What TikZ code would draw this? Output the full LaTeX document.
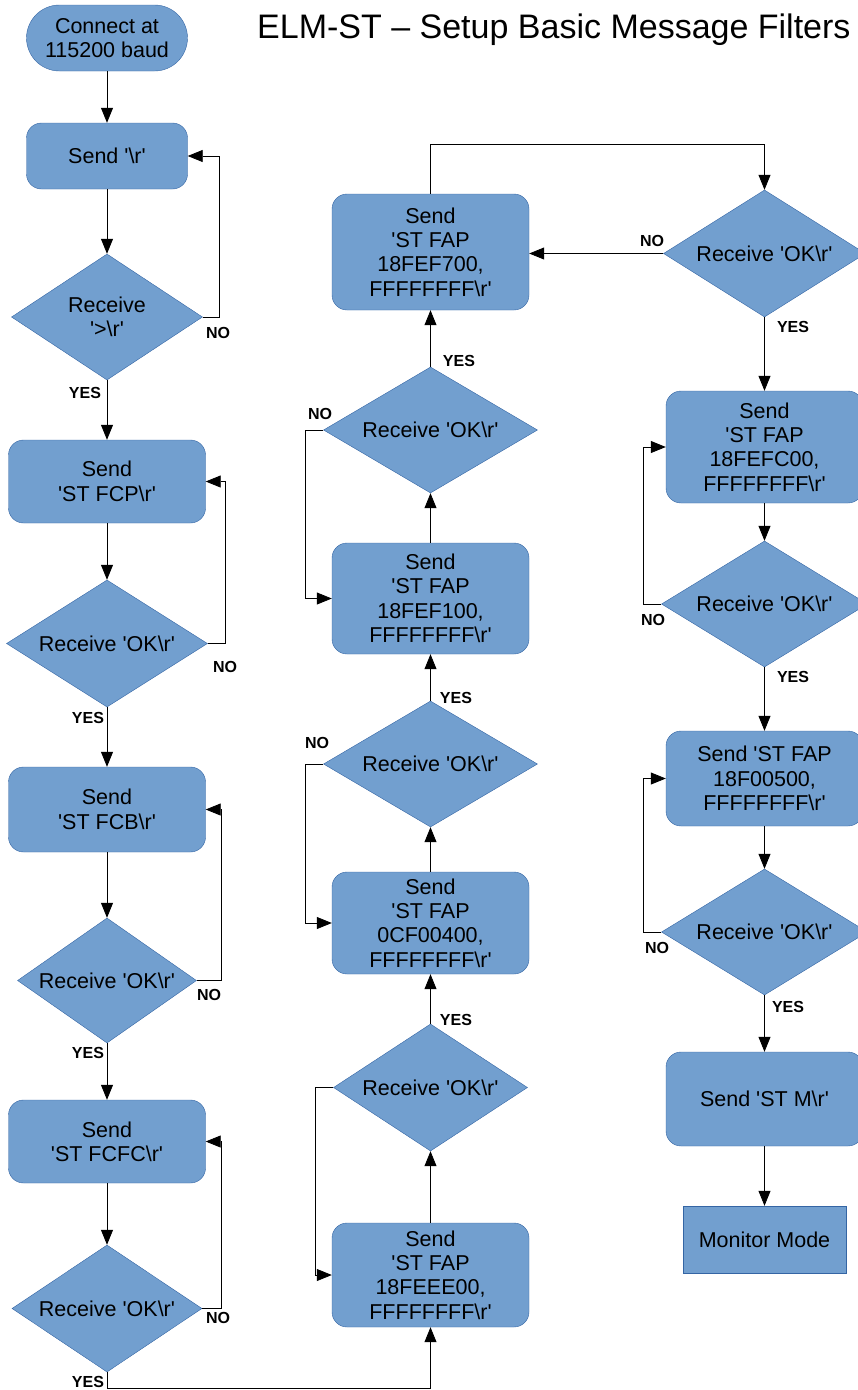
\documentclass[tikz,border=0pt]{standalone}
\usepackage{fontspec}
\newfontfamily\lsans{Liberation Sans}
\usetikzlibrary{shapes.geometric,arrows.meta}
\definecolor{boxfill}{HTML}{729FCF}
\definecolor{boxline}{HTML}{3465A4}
\begin{document}
\begin{tikzpicture}[x=1pt,y=-1pt,
  every node/.style={font=\lsans\fontsize{21.5}{24.4}\selectfont},
  proc/.style={draw=boxline,fill=boxfill,rounded corners=15pt,align=center,inner sep=0pt},
  plain/.style={draw=boxline,fill=boxfill,align=center,inner sep=0pt},
  dec/.style={diamond,draw=boxline,fill=boxfill,align=center,inner sep=0pt,shape aspect=1.6},
  lbl/.style={font=\lsans\bfseries\fontsize{16}{18}\selectfont,inner sep=0pt},
  arr/.style={-{Triangle[length=15pt,width=12pt]},line width=0.8pt},
  titlefont/.style={font=\lsans\fontsize{34}{37}\selectfont}]
\useasboundingbox (0,0) rectangle (858,1390);

% title
\node[titlefont,anchor=base west,inner sep=0pt] (title) at (257,38) {ELM-ST – Setup Basic Message Filters};

% left column
\node[proc,rounded corners=33pt,minimum width=161pt,minimum height=66pt] (start) at (107,38) {Connect at\\115200 baud};
\node[proc,minimum width=161pt,minimum height=66pt] (s0) at (107,156) {Send '\textbackslash r'};
\node[dec,minimum width=191pt,minimum height=126pt] (d1) at (107,317) {Receive\\'>\textbackslash r'};
\node[proc,minimum width=197pt,minimum height=83pt] (s1) at (107,481.5) {Send\\'ST FCP\textbackslash r'};
\node[dec,minimum width=201pt,minimum height=127pt] (d2) at (107,643.5) {Receive 'OK\textbackslash r'};
\node[proc,minimum width=197pt,minimum height=85pt] (s2) at (107,809.5) {Send\\'ST FCB\textbackslash r'};
\node[dec,minimum width=179pt,minimum height=125pt] (d3) at (107,980.5) {Receive 'OK\textbackslash r'};
\node[proc,minimum width=197pt,minimum height=83pt] (s3) at (107,1141.5) {Send\\'ST FCFC\textbackslash r'};
\node[dec,minimum width=190pt,minimum height=127pt] (d4) at (107,1308.5) {Receive 'OK\textbackslash r'};

% middle column
\node[proc,minimum width=197pt,minimum height=104pt] (m0) at (430.5,1275) {Send\\'ST FAP\\18FEEE00,\\FFFFFFFF\textbackslash r'};
\node[dec,minimum width=194pt,minimum height=127pt] (md0) at (430.5,1087.5) {Receive 'OK\textbackslash r'};
\node[proc,minimum width=197pt,minimum height=102pt] (m1) at (430.5,923) {Send\\'ST FAP\\0CF00400,\\FFFFFFFF\textbackslash r'};
\node[dec,minimum width=214pt,minimum height=126pt] (md1) at (430.5,764) {Receive 'OK\textbackslash r'};
\node[proc,minimum width=197pt,minimum height=111pt] (m2) at (430.5,598.5) {Send\\'ST FAP\\18FEF100,\\FFFFFFFF\textbackslash r'};
\node[dec,minimum width=214pt,minimum height=126pt] (md2) at (430.5,430) {Receive 'OK\textbackslash r'};
\node[proc,minimum width=197pt,minimum height=116pt] (m3) at (430.5,252) {Send\\'ST FAP\\18FEF700,\\FFFFFFFF\textbackslash r'};

% right column
\node[dec,minimum width=202pt,minimum height=127pt] (r0) at (764.5,253.5) {Receive 'OK\textbackslash r'};
\node[proc,minimum width=197pt,minimum height=112pt] (r1) at (764.5,447) {Send\\'ST FAP\\18FEFC00,\\FFFFFFFF\textbackslash r'};
\node[dec,minimum width=206pt,minimum height=126pt] (r2) at (764.5,604) {Receive 'OK\textbackslash r'};
\node[proc,minimum width=197pt,minimum height=95pt] (r3) at (764.5,778.5) {Send 'ST FAP\\18F00500,\\FFFFFFFF\textbackslash r'};
\node[dec,minimum width=206pt,minimum height=126pt] (r4) at (764.5,932) {Receive 'OK\textbackslash r'};
\node[proc,minimum width=197pt,minimum height=94pt] (r5) at (764.5,1099) {Send 'ST M\textbackslash r'};
\node[plain,minimum width=163pt,minimum height=67pt] (r6) at (764.5,1239.5) {Monitor Mode};

% left connectors
\draw[arr] (start) -- (s0);
\draw[arr] (s0) -- (d1);
\draw[arr] (d1.east) -- ++(17,0) |- (s0.east);
\draw[arr] (d1) -- (s1);
\draw[arr] (s1) -- (d2);
\draw[arr] (d2.east) -- ++(18,0) |- (s1.east);
\draw[arr] (d2) -- (s2);
\draw[arr] (s2) -- (d3);
\draw[arr] (d3.east) -- ++(25,0) |- (s2.east);
\draw[arr] (d3) -- (s3);
\draw[arr] (s3) -- (d4);
\draw[arr] (d4.east) -- ++(19,0) |- (s3.east);
\draw[arr] (d4.south) -- ++(0,16) -| (m0.south);

% middle connectors
\draw[arr] (m0) -- (md0);
\draw[arr] (md0.west) -- ++(-18,0) |- (m0.west);
\draw[arr] (md0) -- (m1);
\draw[arr] (m1) -- (md1);
\draw[arr] (md1.west) -- ++(-18,0) |- (m1.west);
\draw[arr] (md1) -- (m2);
\draw[arr] (m2) -- (md2);
\draw[arr] (md2.west) -- ++(-18,0) |- (m2.west);
\draw[arr] (md2) -- (m3);
\draw[arr] (m3.north) -- ++(0,-49) -| (r0.north);

% right connectors
\draw[arr] (r0.west) -- (r0.west -| m3.east);
\draw[arr] (r0) -- (r1);
\draw[arr] (r1) -- (r2);
\draw[arr] (r2.west) -- ++(-18,0) |- (r1.west);
\draw[arr] (r2) -- (r3);
\draw[arr] (r3) -- (r4);
\draw[arr] (r4.west) -- ++(-18,0) |- (r3.west);
\draw[arr] (r4) -- (r5);
\draw[arr] (r5) -- (r6);

% labels
\node[lbl] (n1) at (218,333) {NO};
\node[lbl] (n2) at (225,667) {NO};
\node[lbl] (n3) at (209,995) {NO};
\node[lbl] (n4) at (218,1318) {NO};
\node[lbl] (n5) at (317,743) {NO};
\node[lbl] (n6) at (320,414) {NO};
\node[lbl] (n7) at (652,241) {NO};
\node[lbl] (n8) at (653,620) {NO};
\node[lbl] (n9) at (657,948) {NO};
\node[lbl] (y1) at (85,393) {YES};
\node[lbl] (y2) at (88,718) {YES};
\node[lbl] (y3) at (88,1053) {YES};
\node[lbl] (y4) at (88,1382) {YES};
\node[lbl] (y5) at (456,1020) {YES};
\node[lbl] (y6) at (456,698) {YES};
\node[lbl] (y7) at (459,361) {YES};
\node[lbl] (y8) at (793,327) {YES};
\node[lbl] (y9) at (793,677) {YES};
\node[lbl] (y10) at (788,1007) {YES};
\end{tikzpicture}
\end{document}
